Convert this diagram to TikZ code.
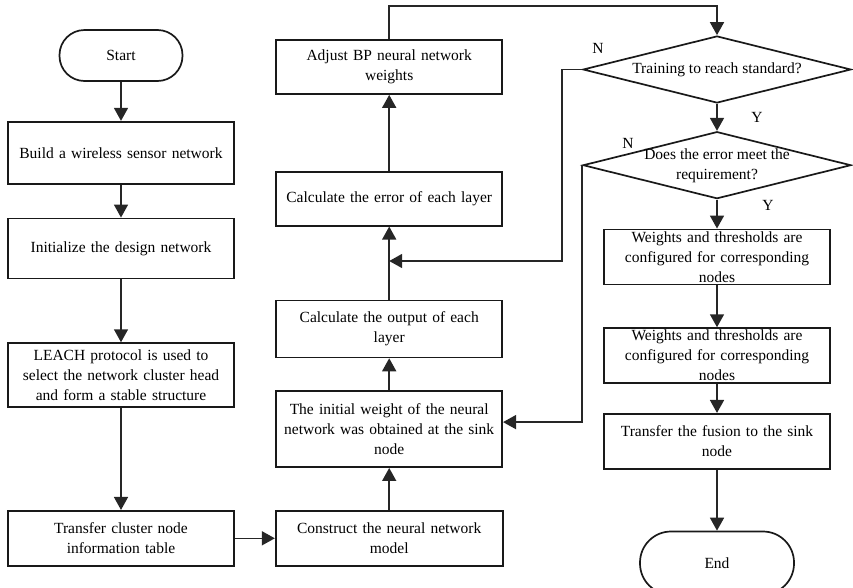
\documentclass[tikz,border=0pt]{standalone}
\usepackage{fontspec}
\setmainfont{Liberation Serif}
\usetikzlibrary{arrows.meta,positioning,shapes.geometric}

\begin{document}
\begin{tikzpicture}[x=1pt,y=-1pt,
  box/.style={
    draw=black!90, line width=1.7pt, text width=220pt, inner xsep=3pt,
    inner ysep=2pt, align=center, minimum width=226pt, minimum height=55pt,
    font=\fontsize{15.5}{20}\selectfont
  },
  term/.style={
    draw=black!90, line width=1.7pt, rounded corners=25pt,
    minimum width=123pt, minimum height=51pt, font=\fontsize{15.5}{20}\selectfont
  },
  decision/.style={
    diamond, draw=black!90, line width=1.7pt, aspect=4, inner sep=0pt,
    minimum width=268pt, minimum height=67pt
  },
  dtxt/.style={align=center, font=\fontsize{15.5}{20}\selectfont},
  yn/.style={font=\fontsize{15.5}{16}\selectfont},
  arr/.style={-{Triangle[length=13pt,width=14pt]}, line width=1.6pt, color=black!85}
]
  \useasboundingbox (0,0) rectangle (853,587);

  % left column
  \node[term] (start) at (121,55.5) {Start};
  \node[box, minimum height=62pt, below=39pt of start] (build) {Build a wireless sensor network};
  \node[box, minimum height=60pt, below=33pt of build] (init) {Initialize the design network};
  \node[box, minimum height=64pt, below=63pt of init] (leach) {LEACH protocol is used to\\ select the network cluster head\\ and form a stable structure};
  \node[box, below=102pt of leach] (tcl) {Transfer cluster node\\ information table};
  \draw[arr] (start) -- (build);
  \draw[arr] (build) -- (init);
  \draw[arr] (init) -- (leach);
  \draw[arr] (leach) -- (tcl);

  % middle column, bottom to top
  \node[box, minimum width=227pt, right=40pt of tcl] (cons) {Construct the neural network\\ model};
  \node[box, minimum height=76pt, above=42pt of cons] (initw) {The initial weight of the neural\\ network was obtained at the sink\\ node};
  \node[box, minimum height=57pt, above=32pt of initw] (outp) {Calculate the output of each\\ layer};
  \node[box, minimum height=54pt, above=73pt of outp] (err) {Calculate the error of each layer};
  \node[box, minimum height=54pt, above=76pt of err] (adj) {Adjust BP neural network\\ weights};
  \draw[arr] (tcl) -- (cons);
  \draw[arr] (cons) -- (initw);
  \draw[arr] (initw) -- (outp);
  \draw[arr] (outp) -- (err);
  \draw[arr] (err) -- (adj);

  % right column
  \node[decision] (d1) at (717,69.5) {};
  \node[dtxt] (d1t) at (d1) {Training to reach standard?};
  \node[decision, below=27pt of d1] (d2) {};
  \node[dtxt] (d2t) at ([yshift=-1pt]d2.center) {Does the error meet the\\ requirement?};
  \node[box, inner ysep=-3pt, below=29pt of d2] (w1) {Weights and thresholds are\\ configured for corresponding\\ nodes};
  \node[box, inner ysep=-3pt, below=42pt of w1] (w2) {Weights and thresholds are\\ configured for corresponding\\ nodes};
  \node[box, below=29pt of w2] (tfu) {Transfer the fusion to the sink\\ node};
  \node[term, minimum width=154pt, minimum height=63pt, rounded corners=31pt, below=61pt of tfu] (end) {End};

  \coordinate (top) at (550,6);
  \draw[arr] (adj.north) |- (top) -| (d1.north);
  \draw[arr] (d1.south) -- (d2.north);
  \draw[arr] (d2.south) -- (w1);
  \draw[arr] (w1) -- (w2);
  \draw[arr] (w2) -- (tfu);
  \draw[arr] (tfu) -- (end);

  % back to the middle column
  \coordinate (j1) at (err.south |- 0,261);
  \draw[arr] (d1.west) -- ++(-20,0) |- (j1);
  \draw[arr] (d2.west) |- ([yshift=7pt]initw.east);

  \node[yn] (n1) at (598,48) {N};
  \node[yn] (y1) at (757,117) {Y};
  \node[yn] (n2) at (628,143) {N};
  \node[yn] (y2) at (768,205) {Y};
\end{tikzpicture}
\end{document}
